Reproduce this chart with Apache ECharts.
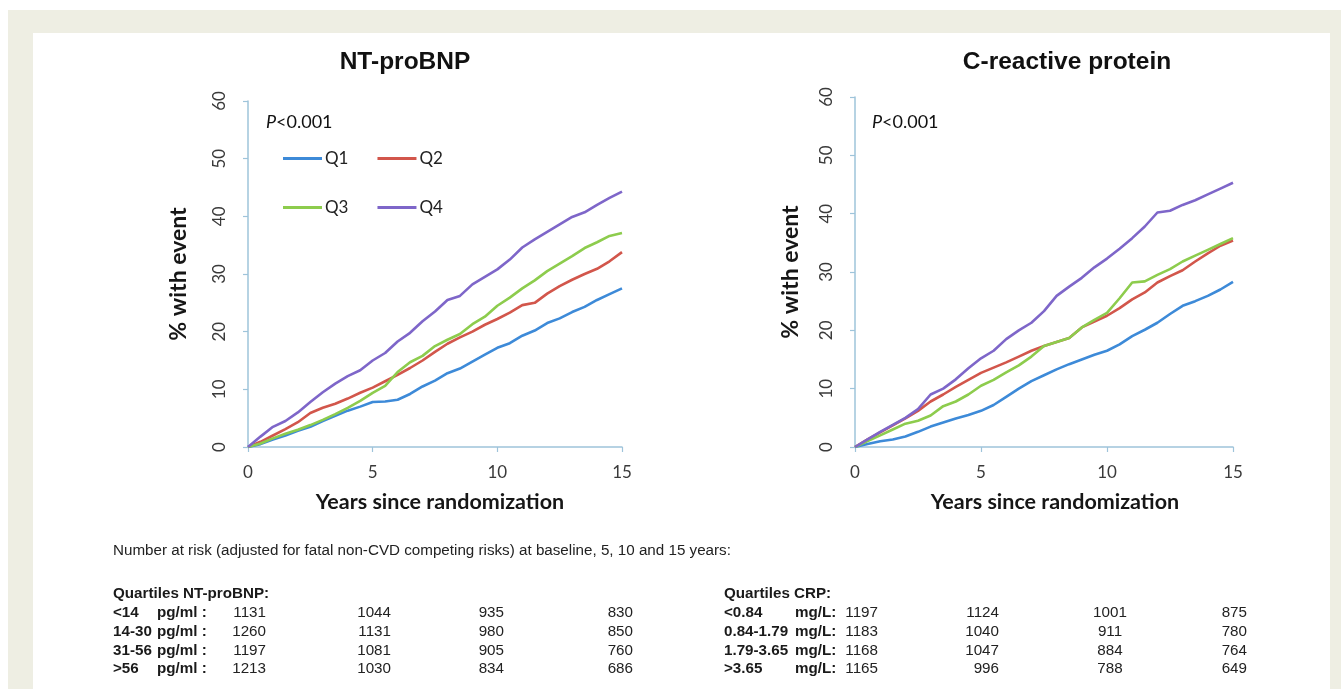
<!DOCTYPE html>
<html><head><meta charset="utf-8">
<script src="https://cdn.jsdelivr.net/npm/echarts@6/dist/echarts.min.js"></script>
<style>
html,body{margin:0;padding:0;background:#fff;}
#bg1{position:absolute;left:8px;top:10px;width:1333px;height:679px;background:#eeeee3;}
#bg2{position:absolute;left:33px;top:33px;width:1297px;height:656px;background:#fff;}
#c{position:absolute;left:0;top:0;width:1341px;height:689px;}
</style>
</head><body>
<div id="bg1"></div><div id="bg2"></div><div id="c"></div>
<script>
// ---- data ----
const years = [0,0.5,1,1.5,2,2.5,3,3.5,4,4.5,5,5.5,6,6.5,7,7.5,8,8.5,9,9.5,10,10.5,11,11.5,12,12.5,13,13.5,14,14.5,15];
const seriesNames = ['Q1','Q2','Q3','Q4'];
// NT-proBNP quartiles (% with event)
const ntQ1 = [0,0.5,1.3,2.0,2.8,3.5,4.5,5.4,6.3,7.0,7.8,7.9,8.2,9.2,10.5,11.5,12.8,13.6,14.8,16.0,17.2,18.0,19.3,20.2,21.5,22.3,23.4,24.3,25.5,26.5,27.5];
const ntQ2 = [0,0.9,2.0,3.1,4.3,5.9,6.8,7.5,8.4,9.4,10.3,11.4,12.5,13.7,15.0,16.5,17.9,19.0,20.0,21.2,22.2,23.3,24.6,25.0,26.6,27.9,29.0,30.0,30.9,32.2,33.8];
const ntQ3 = [0,0.6,1.5,2.3,3.0,3.8,4.7,5.7,6.8,8.0,9.4,10.6,13.0,14.7,15.8,17.5,18.6,19.6,21.3,22.6,24.5,25.9,27.5,28.9,30.5,31.8,33.1,34.5,35.5,36.6,37.1];
const ntQ4 = [0,1.8,3.5,4.5,6.0,7.8,9.5,11.0,12.3,13.3,15.0,16.3,18.3,19.8,21.8,23.5,25.5,26.2,28.2,29.5,30.8,32.5,34.6,36.0,37.3,38.6,39.9,40.7,42.0,43.2,44.3];
// C-reactive protein quartiles (% with event)
const crpQ1 = [0,0.5,1.0,1.3,1.8,2.6,3.5,4.2,4.9,5.5,6.2,7.2,8.6,10.0,11.3,12.3,13.3,14.2,15.0,15.8,16.5,17.6,19.0,20.1,21.3,22.8,24.2,25.0,25.9,27.0,28.3];
const crpQ2 = [0,1.3,2.5,3.7,4.9,6.2,7.8,9.0,10.3,11.5,12.7,13.6,14.5,15.5,16.5,17.3,18.0,18.7,20.5,21.5,22.5,23.8,25.3,26.5,28.2,29.3,30.3,31.8,33.2,34.5,35.4];
const crpQ3 = [0,1.0,2.0,3.0,4.0,4.5,5.4,7.0,7.8,9.0,10.5,11.5,12.8,14.0,15.5,17.3,18.0,18.7,20.5,21.8,23.0,25.5,28.2,28.4,29.5,30.5,31.8,32.8,33.8,34.8,35.8];
const crpQ4 = [0,1.3,2.6,3.8,5.0,6.5,9.0,10.0,11.6,13.5,15.2,16.5,18.5,20.0,21.3,23.3,25.9,27.5,29.0,30.8,32.3,34.0,35.8,37.8,40.2,40.5,41.5,42.3,43.3,44.3,45.3];
const panelTitles = ['NT-proBNP','C-reactive protein'];
const yAxisTitle = '% with event';
const xAxisTitle = 'Years since randomization';
const pValueText = '<0.001';
const riskHeader = 'Number at risk (adjusted for fatal non-CVD competing risks) at baseline, 5, 10 and 15 years:';
const ntTableTitle = 'Quartiles NT-proBNP:';
const ntRanges = ['<14','14-30','31-56','>56'];
const ntUnit = 'pg/ml :';
const ntRisk = [[1131,1044,935,830],[1260,1131,980,850],[1197,1081,905,760],[1213,1030,834,686]];
const crpTableTitle = 'Quartiles CRP:';
const crpRanges = ['<0.84','0.84-1.79','1.79-3.65','>3.65'];
const crpUnit = 'mg/L:';
const crpRisk = [[1197,1124,1001,875],[1183,1040,911,780],[1168,1047,884,764],[1165,996,788,649]];

// ---- styles ----
const colors = ['#3d8ad8','#d2564b','#8dcc4d','#7e66c9'];
const axisColor = '#9ec4da';
const labelColor = '#3a3a3a';
const calibri = 'Lato';
const arial = '"Liberation Sans", Arial';
const tfs = 15.2;

const chart = echarts.init(document.getElementById('c'), null, {renderer:'canvas'});

function xAx(gi,shift){
  return {gridIndex:gi,type:'value',min:0,max:15,interval:5,
    axisLine:{show:true,lineStyle:{color:axisColor,width:1.5}},
    axisTick:{show:true,length:5,lineStyle:{color:axisColor,width:1.2}},
    splitLine:{show:false},
    axisLabel:{fontFamily:calibri,fontSize:17,color:labelColor,margin:17},
    name:xAxisTitle,nameLocation:'middle',nameGap:44,
    nameTextStyle:{fontFamily:calibri,fontWeight:'bold',fontSize:21.5,color:'#161616',padding:[0,0,0,shift]}};
}
function yAx(gi,gap){
  return {gridIndex:gi,type:'value',min:0,max:60,interval:10,
    axisLine:{show:true,lineStyle:{color:axisColor,width:1.5}},
    axisTick:{show:true,length:5,lineStyle:{color:axisColor,width:1.2}},
    splitLine:{show:false},
    axisLabel:{fontFamily:calibri,fontSize:17,color:labelColor,rotate:90,margin:20},
    name:yAxisTitle,nameLocation:'middle',nameGap:gap,nameRotate:90,
    nameTextStyle:{fontFamily:calibri,fontWeight:'bold',fontSize:23,color:'#161616'}};
}
const ntData = [ntQ1,ntQ2,ntQ3,ntQ4];
const crpData = [crpQ1,crpQ2,crpQ3,crpQ4];
const series = [];
[ntData, crpData].forEach((set, gi) => {
  set.forEach((vals, k) => {
    series.push({name:seriesNames[k],type:'line',xAxisIndex:gi,yAxisIndex:gi,
      showSymbol:false,symbol:'none',smooth:false,
      lineStyle:{width:2.6,color:colors[k]},itemStyle:{color:colors[k]},
      data:years.map((x,i)=>[x,vals[i]])});
  });
});

const graphics = [];
function txt(text,x,y,opts){
  graphics.push({type:'text',x:x,y:y,silent:true,style:Object.assign({text:text,fill:'#1a1a1a',
    fontFamily:arial,fontSize:tfs,align:'left',verticalAlign:'middle'},opts||{})});
}
txt(panelTitles[0],405,62,{fontSize:24.5,fontWeight:'bold',align:'center',fill:'#111'});
txt(panelTitles[1],1067,62,{fontSize:24.5,fontWeight:'bold',align:'center',fill:'#111'});
[[266,122],[872,122]].forEach(p=>{
  graphics.push({type:'text',x:p[0],y:p[1],silent:true,style:{
    text:'{i|P}{n|'+pValueText+'}',verticalAlign:'middle',
    rich:{i:{fontFamily:calibri,fontSize:18,fontStyle:'italic',fill:'#111'},
          n:{fontFamily:calibri,fontSize:18,fill:'#111'}}}});
});
// table
txt(riskHeader,113,551,{fill:'#222'});
txt(ntTableTitle,113,594,{fontWeight:'bold'});
txt(crpTableTitle,724,594,{fontWeight:'bold'});
const rowY = [613,632,651,669];
const ntCols = [{x:266,a:'right'},{x:391,a:'right'},{x:504,a:'right'},{x:633,a:'right'}];
const crpCols = [{x:878,a:'right'},{x:999,a:'right'},{x:1110,a:'center'},{x:1247,a:'right'}];
rowY.forEach((y,r)=>{
  txt(ntRanges[r],113,y,{fontWeight:'bold'});
  txt(ntUnit,157,y,{fontWeight:'bold'});
  ntRisk[r].forEach((v,c)=>txt(String(v),ntCols[c].x,y,{align:ntCols[c].a,fill:'#222'}));
  txt(crpRanges[r],724,y,{fontWeight:'bold'});
  txt(crpUnit,795,y,{fontWeight:'bold'});
  crpRisk[r].forEach((v,c)=>txt(String(v),crpCols[c].x,y,{align:crpCols[c].a,fill:'#222'}));
});

const legendCommon = {icon:'rect',itemWidth:39,itemHeight:3,itemGap:29,
  textStyle:{fontFamily:calibri,fontSize:17,color:'#222',padding:[0,0,0,-2]},
  selectedMode:false};

chart.setOption({
  backgroundColor:'transparent',
  animation:false,
  grid:[{left:248,top:101,width:374,height:346},{left:855,top:97,width:378,height:350}],
  xAxis:[xAx(0,10),xAx(1,22)],
  yAxis:[yAx(0,58),yAx(1,53)],
  legend:[Object.assign({left:278,top:145,data:['Q1','Q2']},legendCommon),
          Object.assign({left:278,top:194,data:['Q3','Q4']},legendCommon)],
  series:series,
  graphic:{elements:graphics}
});
</script>
</body></html>
